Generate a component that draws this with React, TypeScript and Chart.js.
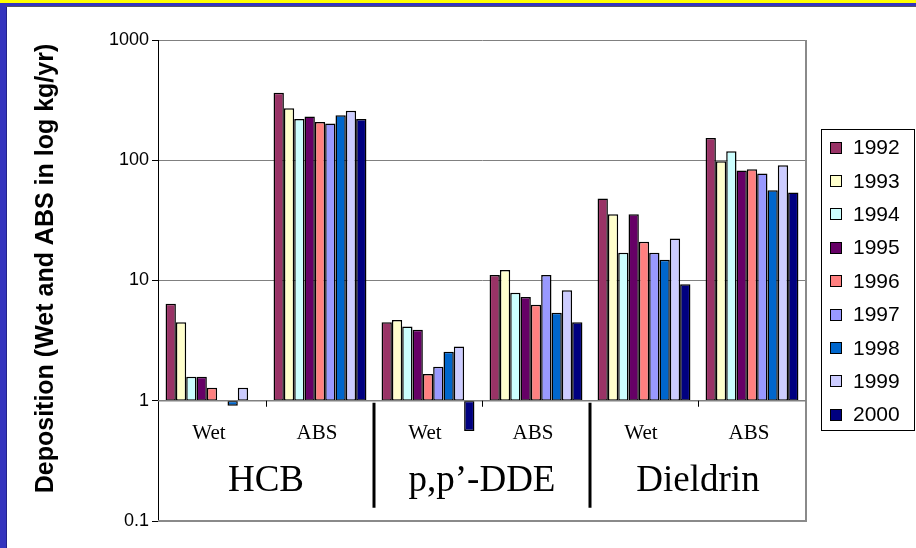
import { useEffect, useRef } from 'react';
import { Chart, registerables } from 'chart.js';

Chart.register(...registerables);

const categories = ['Wet', 'ABS', 'Wet', 'ABS', 'Wet', 'ABS'];
const groups = ['HCB', 'p,p’-DDE', 'Dieldrin'];
const years = ['1992', '1993', '1994', '1995', '1996', '1997', '1998', '1999', '2000'];
const colors = ['#993366', '#FFFFCC', '#CCFFFF', '#660066', '#FF8080', '#9999FF', '#0066CC', '#CCCCFF', '#000080'];
const yTicks = [0.1, 1, 10, 100, 1000];
const yTickLabels = ['0.1', '1', '10', '100', '1000'];
const yTitle = 'Deposition (Wet and ABS in log kg/yr)';
const baseline = 1;

const v1992 = [6.4, 365, 4.5, 11.1, 48, 153];
const v1993 = [4.5, 271, 4.7, 12.2, 35.6, 98];
const v1994 = [1.58, 220, 4.15, 7.9, 17, 119];
const v1995 = [1.58, 231, 3.9, 7.3, 35.6, 82];
const v1996 = [1.28, 208, 1.67, 6.3, 21, 84];
const v1997 = [null, 202, 1.92, 11.1, 17, 77.5];
const v1998 = [0.91, 237, 2.55, 5.4, 14.9, 56.4];
const v1999 = [1.28, 258, 2.83, 8.3, 22.3, 91];
const v2000 = [null, 220, 0.56, 4.5, 9.3, 54];
const seriesValues = [v1992, v1993, v1994, v1995, v1996, v1997, v1998, v1999, v2000];

const SANS = '"Liberation Sans", Arial, sans-serif';
const SERIF = '"Liberation Serif", "Times New Roman", serif';

const decorPlugin = {
  id: 'decor',
  beforeDraw(chart: any) {
    const { ctx, width, height } = chart;
    ctx.save();
    ctx.fillStyle = '#ffffff';
    ctx.fillRect(0, 0, width, height);
    ctx.fillStyle = '#3434BE';
    ctx.fillRect(0, 0, 7, height);
    ctx.fillStyle = '#22228A';
    ctx.fillRect(6, 6, 1, height);
    ctx.fillStyle = '#3434BE';
    ctx.fillRect(0, 3, width, 3);
    ctx.fillStyle = '#555566';
    ctx.fillRect(6, 6, width, 1);
    ctx.fillStyle = '#FFFF00';
    ctx.fillRect(0, 0, width, 3);
    ctx.restore();
  },
  afterDatasetsDraw(chart: any) {
    const { ctx, chartArea } = chart;
    const x = chart.scales.x;
    const y = chart.scales.y;
    const y1 = y.getPixelForValue(baseline);
    ctx.save();
    ctx.strokeStyle = '#8a8a8a';
    ctx.lineWidth = 2;
    ctx.beginPath();
    ctx.moveTo(chartArea.right, chartArea.top);
    ctx.lineTo(chartArea.right, chartArea.bottom);
    ctx.lineTo(chartArea.left, chartArea.bottom);
    ctx.stroke();
    ctx.strokeStyle = '#808080';
    ctx.lineWidth = 1.5;
    ctx.beginPath();
    ctx.moveTo(chartArea.left, y1);
    ctx.lineTo(chartArea.right, y1);
    ctx.stroke();
    for (let i = 0; i < categories.length - 1; i++) {
      const bx = (x.getPixelForValue(i) + x.getPixelForValue(i + 1)) / 2;
      ctx.strokeStyle = '#000';
      if (i % 2 === 1) {
        ctx.lineWidth = 3;
        ctx.beginPath();
        ctx.moveTo(bx, y1 + 2);
        ctx.lineTo(bx, y1 + 107);
        ctx.stroke();
      } else {
        ctx.lineWidth = 1;
        ctx.beginPath();
        ctx.moveTo(Math.round(bx) + 0.5, y1);
        ctx.lineTo(Math.round(bx) + 0.5, y1 + 6);
        ctx.stroke();
      }
    }
    ctx.fillStyle = '#000';
    ctx.textAlign = 'center';
    ctx.textBaseline = 'alphabetic';
    ctx.font = `21px ${SERIF}`;
    categories.forEach((c, i) => {
      ctx.fillText(c, x.getPixelForValue(i) - 3, y1 + 38);
    });
    ctx.font = `37px ${SERIF}`;
    groups.forEach((g, gi) => {
      const cx = (x.getPixelForValue(gi * 2) + x.getPixelForValue(gi * 2 + 1)) / 2;
      ctx.fillText(g, cx, y1 + 90);
    });
    ctx.save();
    ctx.translate(53, (chartArea.top + chartArea.bottom) / 2 - 12);
    ctx.rotate(-Math.PI / 2);
    ctx.font = `bold 25px ${SANS}`;
    ctx.textAlign = 'center';
    ctx.fillText(yTitle, 0, 0);
    ctx.restore();
    const lx = 821, ly = 129, lw = 94, lh = 301;
    ctx.fillStyle = '#fff';
    ctx.fillRect(lx, ly, lw, lh);
    ctx.strokeStyle = '#000';
    ctx.lineWidth = 1;
    ctx.strokeRect(lx + 0.5, ly + 0.5, lw - 1, lh);
    ctx.font = `21px ${SANS}`;
    ctx.textAlign = 'left';
    ctx.textBaseline = 'middle';
    chart.data.datasets.forEach((ds: any, i: number) => {
      const cy = ly + 18.5 + i * 33.4;
      ctx.fillStyle = ds.backgroundColor;
      ctx.fillRect(830, Math.round(cy) - 6, 12, 12);
      ctx.strokeStyle = '#000';
      ctx.strokeRect(830.5, Math.round(cy) - 5.5, 11, 11);
      ctx.fillStyle = '#000';
      ctx.fillText(ds.label, 853, cy + 1);
    });
    ctx.restore();
  },
};

export default function App() {
  const ref = useRef<HTMLCanvasElement>(null);
  useEffect(() => {
    document.body.style.margin = '0';
    if (!ref.current) return;
    const chart = new Chart(ref.current, {
      type: 'bar',
      data: {
        labels: categories,
        datasets: years.map((yr, i) => ({
          label: yr,
          data: seriesValues[i].map((v) => (v == null ? null : [baseline, v])) as any,
          backgroundColor: colors[i],
          borderColor: '#000',
          borderWidth: 1.5,
          borderSkipped: false,
          categoryPercentage: 0.86,
          barPercentage: 1,
        })),
      },
      options: {
        animation: false,
        responsive: false,
        devicePixelRatio: 1,
        layout: { padding: { top: 40, right: 110, bottom: 27, left: 0 } },
        plugins: { legend: { display: false }, tooltip: { enabled: false } },
        scales: {
          x: { type: 'category', display: false, offset: true },
          y: {
            type: 'logarithmic',
            min: 0.1,
            max: 1000,
            afterBuildTicks: (s: any) => {
              s.ticks = yTicks.map((v) => ({ value: v }));
            },
            afterFit: (s: any) => {
              s.width = 158;
            },
            ticks: {
              autoSkip: false,
              color: '#000',
              padding: 3,
              font: { family: SANS, size: 18 },
              callback: (v: any) => {
                const idx = yTicks.indexOf(Number(v));
                return idx >= 0 ? yTickLabels[idx] : '';
              },
            },
            grid: { color: '#808080', lineWidth: 1, tickColor: '#000', tickLength: 6 },
            border: { display: true, color: '#000', width: 1 },
          },
        },
      },
      plugins: [decorPlugin],
    });
    return () => chart.destroy();
  }, []);
  return (
    <div style={{ width: 916, height: 548 }}>
      <canvas ref={ref} width={916} height={548} style={{ display: 'block' }} />
    </div>
  );
}
